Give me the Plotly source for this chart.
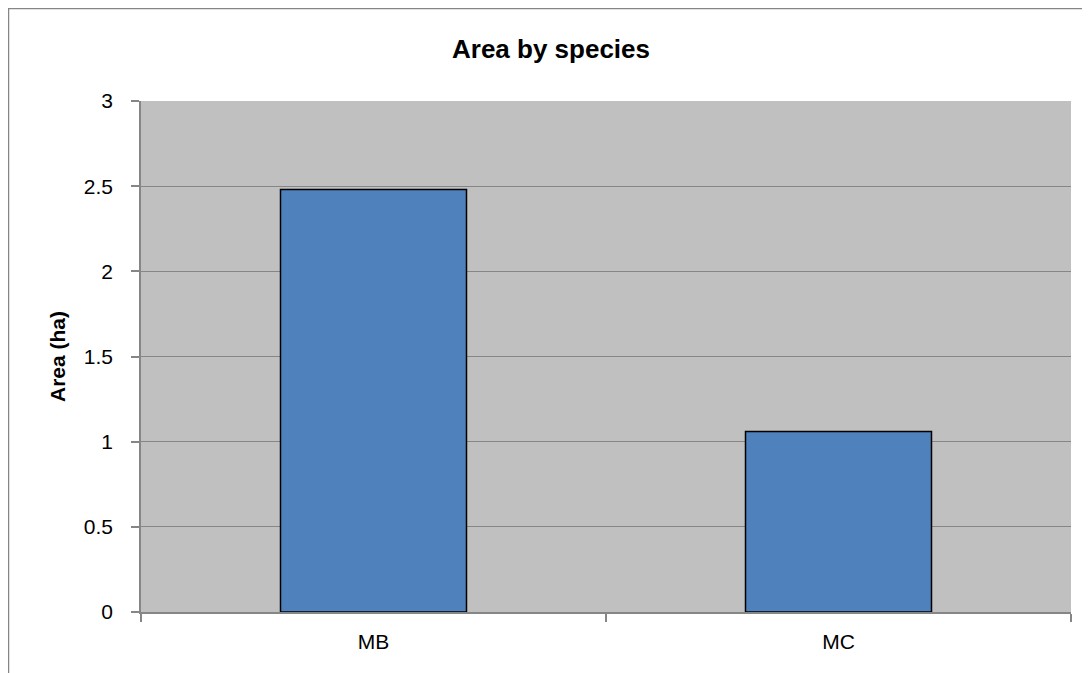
import plotly.graph_objects as go

categories = ["MB", "MC"]
area_ha = [2.48, 1.06]
y_ticks = [0, 0.5, 1, 1.5, 2, 2.5, 3]
y_tick_labels = ["0", "0.5", "1", "1.5", "2", "2.5", "3"]

# page has an 8px body margin; the figure starts at (8, 8)
OFF = 8
W, H = 1090 - OFF, 673 - OFF
PL, PR, PT, PB = 141, 1071, 101, 612  # plot area in page pixels
L, T = PL - OFF, PT - OFF
R, B = W - (PR - OFF), H - (PB - OFF)
pw, ph = PR - PL, PB - PT

def px_x(p):
    return (p - PL) / pw

def px_y(p):
    return (PB - p) / ph

font = "'Liberation Sans', Arial, sans-serif"
grey = "#868686"

fig = go.Figure(go.Bar(
    x=categories, y=area_ha,
    marker=dict(color="#4F81BD", line=dict(color="#000000", width=1.5)),
    width=0.4,
))

fig.update_layout(
    width=W, height=H,
    margin=dict(l=L, r=R, t=T, b=B),
    paper_bgcolor="white",
    plot_bgcolor="#C0C0C0",
    showlegend=False,
    font=dict(family=font, size=21, color="black"),
    bargap=0.6,
)
fig.update_xaxes(
    showgrid=False, showline=True, linecolor=grey, linewidth=1.5,
    ticks="outside", tickson="boundaries", ticklen=8, tickcolor=grey, tickwidth=1.5,
    tickfont=dict(size=21), ticklabelstandoff=10,
)
fig.update_yaxes(
    range=[0, 3], tickvals=y_ticks, ticktext=y_tick_labels,
    showgrid=True, gridcolor=grey, gridwidth=1.3,
    showline=True, linecolor=grey, linewidth=1.5,
    ticks="outside", ticklen=8, tickcolor=grey, tickwidth=1.5,
    tickfont=dict(size=21), zeroline=False, ticklabelstandoff=14,
)
fig.add_annotation(text="<b>Area by species</b>", xref="paper", yref="paper",
                   x=px_x(551), y=px_y(49), xanchor="center", yanchor="middle",
                   showarrow=False, font=dict(family=font, size=26, color="black"))
fig.add_annotation(text="<b>Area (ha)</b>", xref="paper", yref="paper",
                   x=px_x(57), y=px_y(357), xanchor="center", yanchor="middle",
                   textangle=-90, showarrow=False,
                   font=dict(family=font, size=21, color="black"))
# outer chart border (top and left edges visible in the crop)
fig.add_shape(type="path", xref="paper", yref="paper",
              path=f"M {px_x(8.5)},{px_y(700)} L {px_x(8.5)},{px_y(8.5)} L {px_x(1100)},{px_y(8.5)}",
              line=dict(color=grey, width=1.5))

fig.write_html("out.html")
